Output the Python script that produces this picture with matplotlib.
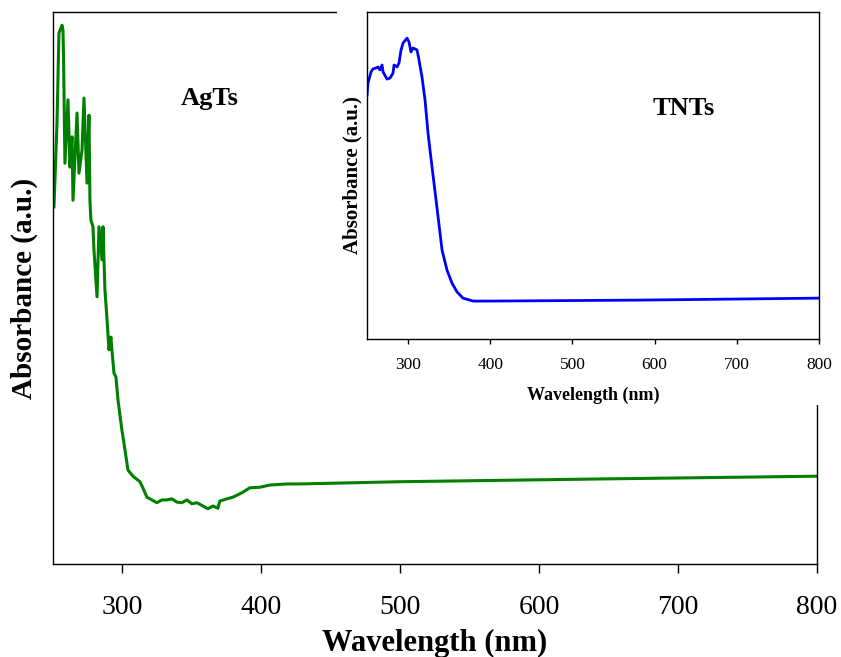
import matplotlib.pyplot as plt
from matplotlib.patches import Rectangle

# AgTs spectrum (main panel), arbitrary absorbance units
agts_wl = [250.7, 252.9, 254.3, 256.5, 257.2, 257.6, 258.6, 260.8, 262.2, 263.7,
           264.4, 267.3, 268.7, 270.9, 272.3, 274.5, 275.9, 276.6, 277.3, 278.8,
           279.5, 281.7, 283.1, 285.3, 286.0, 287.4, 288.8, 290.3, 291.7, 292.4,
           293.9, 295.3, 296.8, 299.6, 301.8, 304.0, 307.6, 312.6, 314.7, 317.6,
           321.2, 324.8, 328.4, 332.0, 335.6, 339.2, 342.8, 346.4, 350.0, 353.6,
           357.9, 361.5, 365.1, 368.7, 370.1, 375.2, 379.5, 386.0, 391.7, 398.9,
           406.1, 418.3, 427.7, 499.6, 643.5, 800.0]
agts_abs = [0.647, 0.799, 0.962, 0.976, 0.967, 0.918, 0.726, 0.841, 0.719, 0.774,
            0.659, 0.817, 0.708, 0.750, 0.844, 0.690, 0.813, 0.659, 0.623, 0.611,
            0.569, 0.484, 0.611, 0.551, 0.611, 0.496, 0.447, 0.388, 0.411, 0.388,
            0.346, 0.339, 0.297, 0.243, 0.207, 0.170, 0.159, 0.149, 0.138, 0.121,
            0.116, 0.111, 0.116, 0.116, 0.118, 0.112, 0.111, 0.116, 0.109, 0.111,
            0.105, 0.100, 0.105, 0.101, 0.114, 0.118, 0.121, 0.129, 0.138, 0.139,
            0.143, 0.145, 0.145, 0.149, 0.154, 0.159]

# TNTs spectrum (inset)
tnt_wl = [250.0, 251.2, 254.9, 257.3, 261.0, 263.4, 265.8, 268.3, 269.5, 274.3,
          278.0, 281.6, 282.9, 286.5, 288.9, 291.4, 293.8, 298.7, 301.1, 303.5,
          306.0, 310.8, 313.3, 316.9, 320.6, 324.2, 329.1, 334.0, 341.3, 347.3,
          353.4, 359.5, 366.8, 379.0, 399.7, 582.2, 800.0]
tnt_abs = [0.746, 0.783, 0.817, 0.826, 0.829, 0.832, 0.823, 0.838, 0.817, 0.795,
           0.798, 0.813, 0.838, 0.832, 0.844, 0.884, 0.905, 0.920, 0.908, 0.878,
           0.890, 0.884, 0.853, 0.801, 0.731, 0.630, 0.526, 0.425, 0.272, 0.211,
           0.171, 0.144, 0.125, 0.116, 0.116, 0.119, 0.125]

xticks = [300, 400, 500, 600, 700, 800]

plt.rcParams['font.family'] = ['Liberation Serif', 'DejaVu Serif']

fig = plt.figure(figsize=(8.41, 6.57), dpi=100)
ax = fig.add_axes([0.063, 0.1416, 0.9085, 0.8401])
ax.plot(agts_wl, agts_abs, color='#008000', lw=2.2)
ax.set_xlim(250, 800)
ax.set_ylim(0, 1)
ax.set_xticks(xticks)
ax.set_yticks([])
ax.tick_params(axis='x', direction='out', length=6.5, width=1, labelsize=20, pad=16)
for s in ax.spines.values():
    s.set_linewidth(1)
ax.set_xlabel('Wavelength (nm)', fontsize=22, fontweight='bold', labelpad=6)
ax.set_ylabel('Absorbance (a.u.)', fontsize=21, fontweight='bold', labelpad=11)
ax.text(363, 0.844, 'AgTs', fontsize=19, fontweight='bold', ha='center', va='center')

# white patch where the inset picture sits
fig.patches.append(Rectangle((0.4007, 0.3836), 0.6, 0.62, transform=fig.transFigure,
                             facecolor='white', edgecolor='none', zorder=1))

ins = fig.add_axes([0.4364, 0.484, 0.5375, 0.4977], zorder=2)
ins.plot(tnt_wl, tnt_abs, color='#0000ff', lw=2)
ins.set_xlim(250, 800)
ins.set_ylim(0, 1)
ins.set_xticks(xticks)
ins.set_yticks([])
ins.tick_params(axis='x', direction='out', length=3.6, width=1, labelsize=12.5, pad=9)
for s in ins.spines.values():
    s.set_linewidth(1)
ins.set_xlabel('Wavelength (nm)', fontsize=13, fontweight='bold', labelpad=10)
ins.set_ylabel('Absorbance (a.u.)', fontsize=15, fontweight='bold', labelpad=3)
ins.text(635.7, 0.706, 'TNTs', fontsize=19, fontweight='bold', ha='center', va='center')

fig.savefig('out.png', dpi=100)
